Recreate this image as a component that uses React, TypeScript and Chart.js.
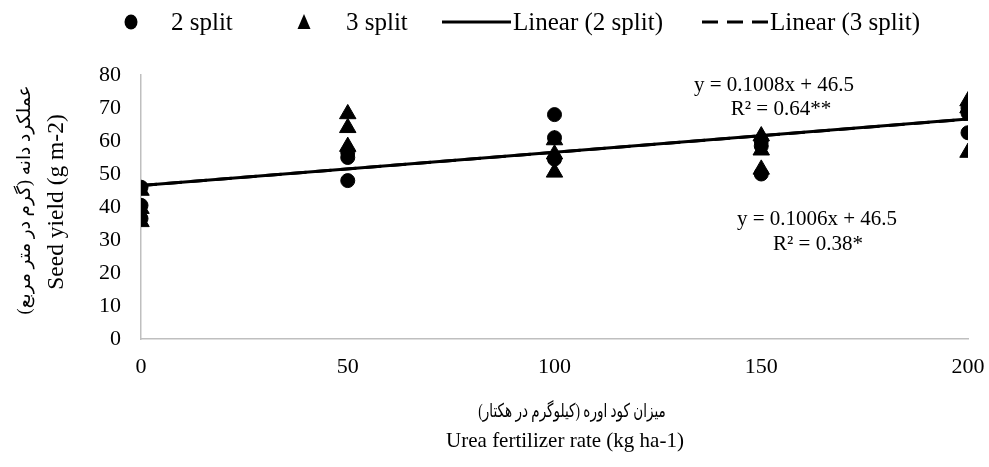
import React, { useEffect, useRef } from 'react';
import { Chart, registerables } from 'chart.js';

Chart.register(...registerables);

// ---- data ----
const xValues = [0, 0, 0, 50, 50, 50, 100, 100, 100, 150, 150, 150, 200, 200, 200];
const split2Values = [46, 40.5, 36.5, 48, 55, 56.5, 68, 61, 54.5, 60, 58.5, 50, 70, 68.5, 62.5];
const split3Values = [45, 39.5, 35.5, 68.2, 64, 58.3, 60.3, 56, 50.5, 61.5, 57.2, 51.4, 72.1, 70, 56.5];
const trendSlopes = [0.1008, 0.1006];
const trendIntercepts = [46.5, 46.5];
const xRange = [0, 200];
const yRange = [0, 80];
const xStep = 50;
const yStep = 10;
const seriesNames = ['2 split', '3 split', 'Linear (2 split)', 'Linear (3 split)'];
const equationTexts = ['y = 0.1008x + 46.5', 'R² = 0.64**', 'y = 0.1006x + 46.5', 'R² = 0.38*'];
const yTitleFa = 'عملکرد دانه (گرم در متر مربع)';
const yTitleEn = 'Seed yield (g m-2)';
const xTitleFa = 'میزان کود اوره (کیلوگرم در هکتار)';
const xTitleEn = 'Urea fertilizer rate (kg ha-1)';

const SERIF = "'Liberation Serif', 'Times New Roman', 'DejaVu Sans', serif";

const toPoints = (ys: number[]) => ys.map((y, i) => ({ x: xValues[i], y }));
const trendPoints = (k: number) =>
  xRange.map((x) => ({ x, y: trendSlopes[k] * x + trendIntercepts[k] }));

const overlayPlugin = {
  id: 'overlay',
  afterDraw(chart: any) {
    const ctx = chart.ctx as CanvasRenderingContext2D;
    ctx.save();
    ctx.fillStyle = '#000';
    ctx.strokeStyle = '#000';

    // legend
    const ly = 22;
    ctx.font = `25px ${SERIF}`;
    ctx.textBaseline = 'middle';
    ctx.textAlign = 'left';
    // circle (slightly oval)
    ctx.beginPath();
    ctx.ellipse(131, ly, 6.5, 7.5, 0, 0, Math.PI * 2);
    ctx.fill();
    ctx.fillText(seriesNames[0], 171, ly + 1);
    // triangle
    ctx.beginPath();
    ctx.moveTo(304, ly - 8);
    ctx.lineTo(310.5, ly + 7);
    ctx.lineTo(297.5, ly + 7);
    ctx.closePath();
    ctx.fill();
    ctx.fillText(seriesNames[1], 346, ly + 1);
    // solid line
    ctx.lineWidth = 3;
    ctx.beginPath();
    ctx.moveTo(442, ly);
    ctx.lineTo(511, ly);
    ctx.stroke();
    ctx.fillText(seriesNames[2], 513, ly + 1);
    // dashed line
    ctx.setLineDash([16, 9]);
    ctx.beginPath();
    ctx.moveTo(702, ly);
    ctx.lineTo(768, ly);
    ctx.stroke();
    ctx.setLineDash([]);
    ctx.fillText(seriesNames[3], 770, ly + 1);

    // equations
    ctx.textAlign = 'center';
    ctx.font = `21px ${SERIF}`;
    ctx.fillText(equationTexts[0], 774, 85);
    ctx.fillText(equationTexts[1], 781, 109);
    ctx.fillText(equationTexts[2], 817, 219);
    ctx.fillText(equationTexts[3], 818, 244);

    // x titles
    ctx.save();
    ctx.translate(572, 412);
    ctx.scale(0.71, 1);
    ctx.font = `19px ${SERIF}`;
    ctx.fillText(xTitleFa, 0, 0);
    ctx.restore();
    ctx.font = `21px ${SERIF}`;
    ctx.fillText(xTitleEn, 565, 441);

    // y titles
    ctx.save();
    ctx.translate(25, 200);
    ctx.rotate(-Math.PI / 2);
    ctx.font = `18.5px ${SERIF}`;
    ctx.fillText(yTitleFa, 0, 0);
    ctx.restore();
    ctx.save();
    ctx.translate(57, 202);
    ctx.rotate(-Math.PI / 2);
    ctx.font = `23.5px ${SERIF}`;
    ctx.fillText(yTitleEn, 0, 0);
    ctx.restore();

    ctx.restore();
  },
};

export default function App() {
  const ref = useRef<HTMLCanvasElement>(null);
  useEffect(() => {
    document.body.style.margin = '0';
    const canvas = ref.current!;
    const chart = new Chart(canvas, {
      type: 'scatter',
      data: {
        datasets: [
          {
            label: seriesNames[0],
            data: toPoints(split2Values),
            pointStyle: 'circle',
            pointRadius: 7,
            pointBorderWidth: 1,
            backgroundColor: '#000',
            borderColor: '#000',
          },
          {
            label: seriesNames[1],
            data: toPoints(split3Values),
            pointStyle: 'triangle',
            pointRadius: 9.5,
            pointBorderWidth: 1,
            backgroundColor: '#000',
            borderColor: '#000',
          },
          {
            label: seriesNames[2],
            data: trendPoints(0),
            showLine: true,
            pointRadius: 0,
            borderColor: '#000',
            borderWidth: 3,
          },
          {
            label: seriesNames[3],
            data: trendPoints(1),
            showLine: true,
            pointRadius: 0,
            borderColor: '#000',
            borderWidth: 3,
            borderDash: [16, 9],
          },
        ],
      },
      options: {
        responsive: false,
        animation: false,
        devicePixelRatio: 1,
        layout: { padding: { top: 75, right: 21, bottom: 0, left: 0 } },
        plugins: { legend: { display: false }, tooltip: { enabled: false } },
        scales: {
          x: {
            type: 'linear',
            min: xRange[0],
            max: xRange[1],
            ticks: { stepSize: xStep, color: '#000', font: { family: SERIF, size: 22 }, padding: 7 },
            grid: { display: false },
            border: { display: true, color: '#bfbfbf', width: 1.5 },
            afterFit: (s: any) => { s.height = 128; s.paddingLeft = 0; s.paddingRight = 0; },
          },
          y: {
            min: yRange[0],
            max: yRange[1],
            ticks: { stepSize: yStep, color: '#000', font: { family: SERIF, size: 22 }, padding: 12 },
            grid: { display: false },
            border: { display: true, color: '#bfbfbf', width: 1.5 },
            afterFit: (s: any) => { s.width = 141; s.paddingTop = 0; s.paddingBottom = 0; },
          },
        },
      },
      plugins: [overlayPlugin],
    });
    return () => chart.destroy();
  }, []);
  return <canvas ref={ref} width={989} height={467} style={{ display: 'block' }} />;
}
